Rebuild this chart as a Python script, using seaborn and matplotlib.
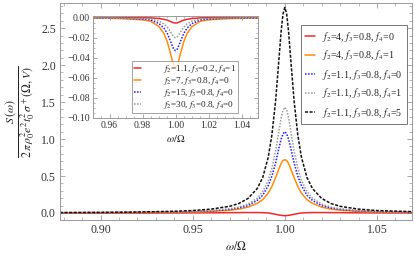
import matplotlib
matplotlib.use("Agg")
import matplotlib.pyplot as plt
import seaborn as sns
from matplotlib.ticker import MultipleLocator, FuncFormatter

# ---- main panel data ----
omega = [0.878, 0.90, 0.92, 0.94, 0.95, 0.96, 0.97, 0.975, 0.98, 0.985, 0.988, 0.991,
         0.993, 0.995, 0.997, 0.998, 0.999, 1.000, 1.001, 1.002, 1.003, 1.005, 1.007,
         1.009, 1.012, 1.015, 1.02, 1.025, 1.03, 1.04, 1.05, 1.069]
s_red = [-0.002, -0.002, -0.001, 0.0, 0.001, 0.002, 0.004, 0.005, 0.006, 0.006, 0.004, 0.0,
         -0.008, -0.018, -0.028, -0.032, -0.035, -0.036, -0.035, -0.032, -0.028, -0.018, -0.008,
         0.0, 0.004, 0.006, 0.006, 0.005, 0.004, 0.002, 0.001, 0.0]
s_orange = [0.002, 0.0035, 0.0055, 0.01, 0.014, 0.021, 0.037, 0.052, 0.079, 0.13, 0.18, 0.27,
            0.36, 0.48, 0.61, 0.67, 0.71, 0.72, 0.71, 0.67, 0.61, 0.48, 0.36,
            0.27, 0.18, 0.13, 0.079, 0.052, 0.037, 0.021, 0.014, 0.007]
s_blue = [0.003, 0.0045, 0.007, 0.012, 0.018, 0.028, 0.048, 0.068, 0.10, 0.17, 0.24, 0.37,
          0.50, 0.68, 0.90, 1.00, 1.07, 1.10, 1.07, 1.00, 0.90, 0.68, 0.50,
          0.37, 0.24, 0.17, 0.10, 0.068, 0.048, 0.028, 0.018, 0.009]
s_gray = [0.004, 0.006, 0.009, 0.015, 0.021, 0.033, 0.058, 0.08, 0.12, 0.20, 0.29, 0.44,
          0.61, 0.84, 1.14, 1.29, 1.39, 1.43, 1.39, 1.29, 1.14, 0.84, 0.61,
          0.44, 0.29, 0.20, 0.12, 0.08, 0.058, 0.033, 0.021, 0.011]
s_black = [0.006, 0.008, 0.013, 0.023, 0.033, 0.052, 0.090, 0.128, 0.196, 0.33, 0.48, 0.755,
           1.06, 1.52, 2.14, 2.46, 2.69, 2.78, 2.69, 2.46, 2.14, 1.52, 1.06,
           0.755, 0.48, 0.33, 0.196, 0.128, 0.090, 0.052, 0.033, 0.018]
main_labels = [r"$f_2$=4, $f_3$=0.8, $f_4$=0",
               r"$f_2$=4, $f_3$=0.8, $f_4$=1",
               r"$f_2$=1.1, $f_3$=0.8, $f_4$=0",
               r"$f_2$=1.1, $f_3$=0.8, $f_4$=1",
               r"$f_2$=1.1, $f_3$=0.8, $f_4$=5"]

# ---- inset data ----
omega_in = [0.95, 0.96, 0.97, 0.98, 0.985, 0.99, 0.993, 0.995, 0.997, 0.998, 0.999, 1.0,
            1.001, 1.002, 1.003, 1.005, 1.007, 1.01, 1.015, 1.02, 1.03, 1.04, 1.05]
in_red = [-0.0001, -0.0001, -0.0001, -0.0002, -0.0004, -0.001, -0.0018, -0.0026, -0.004, -0.0047,
          -0.0053, -0.0055, -0.0053, -0.0047, -0.004, -0.0026, -0.0018, -0.001, -0.0004, -0.0002,
          -0.0001, -0.0001, -0.0001]
in_orange = [-0.0005, -0.00075, -0.0013, -0.0023, -0.0038, -0.009, -0.016, -0.024, -0.036, -0.0425,
             -0.048, -0.05, -0.048, -0.0425, -0.036, -0.024, -0.016, -0.009, -0.0038, -0.0023,
             -0.0013, -0.00075, -0.0005]
in_blue = [-0.0003, -0.0005, -0.0008, -0.0015, -0.0025, -0.006, -0.0106, -0.0158, -0.0238, -0.028,
           -0.0317, -0.033, -0.0317, -0.028, -0.0238, -0.0158, -0.0106, -0.006, -0.0025, -0.0015,
           -0.0008, -0.0005, -0.0003]
in_gray = [-0.0002, -0.0003, -0.0005, -0.0009, -0.0015, -0.0036, -0.0064, -0.0096, -0.0144, -0.017,
           -0.0192, -0.02, -0.0192, -0.017, -0.0144, -0.0096, -0.0064, -0.0036, -0.0015, -0.0009,
           -0.0005, -0.0003, -0.0002]
inset_labels = [r"$f_2$=1.1, $f_3$=0.2, $f_4$=1",
                r"$f_2$=7, $f_3$=0.8, $f_4$=0",
                r"$f_2$=15, $f_3$=0.8, $f_4$=0",
                r"$f_2$=30, $f_3$=0.8, $f_4$=0"]

sns.set_style("ticks")
plt.rcParams['font.family'] = ['Liberation Serif', 'DejaVu Serif']
plt.rcParams['mathtext.fontset'] = 'stix'
plt.rcParams['axes.edgecolor'] = '#9a9a9a'
plt.rcParams['xtick.color'] = '#9a9a9a'
plt.rcParams['ytick.color'] = '#9a9a9a'
plt.rcParams['xtick.labelcolor'] = '#333333'
plt.rcParams['ytick.labelcolor'] = '#333333'


def fmt(nd):
    def f(v, pos):
        if abs(v) < 1e-9:
            v = 0.0
        return f"{v:.{nd}f}".replace('-', '\u2212')
    return FuncFormatter(f)


RED, ORANGE, BLUE, GRAY, BLACK = '#f0282c', '#ff8c0a', '#1a1aff', '#999999', '#111111'
styles = [(RED, '-'), (ORANGE, '-'), (BLUE, (0, (1, 1))), (GRAY, (0, (1, 1))), (BLACK, (0, (2, 1)))]

fig = plt.figure(figsize=(4.15, 2.58), dpi=100)
ax = fig.add_axes([60 / 415, 1 - 220 / 258, 352 / 415, 217 / 258])

for ys, (c, ls), lab in zip([s_red, s_orange, s_blue, s_gray, s_black], styles, main_labels):
    sns.lineplot(x=omega, y=ys, ax=ax, color=c, linestyle=ls, lw=1.1, label=lab)

ax.set_xlim(0.878, 1.069)
ax.set_ylim(-0.095, 2.84)
ax.xaxis.set_major_locator(MultipleLocator(0.05))
ax.xaxis.set_minor_locator(MultipleLocator(0.01))
ax.yaxis.set_major_locator(MultipleLocator(0.5))
ax.yaxis.set_minor_locator(MultipleLocator(0.1))
ax.xaxis.set_major_formatter(fmt(2))
ax.yaxis.set_major_formatter(fmt(1))
ax.tick_params(which='both', direction='in', top=True, right=True, labelsize=8.5, pad=3)
ax.tick_params(which='major', length=3.5, width=0.6)
ax.tick_params(which='minor', length=2, width=0.5)
for sp in ax.spines.values():
    sp.set_linewidth(0.7)
ax.set_xlabel(r"$\omega/\Omega$", fontsize=8.5, color='#222222', labelpad=3)
ax.set_ylabel(r"$\dfrac{S\,(\omega)}{2\,\pi\,\rho_0^2 e^2 t_0^2\,\sigma^+(\Omega,V)}$",
              fontsize=8.5, color='#222222', labelpad=3)

leg = ax.legend(loc='upper right', bbox_to_anchor=(407 / 415, 1 - 25 / 258),
                bbox_transform=fig.transFigure, fontsize=7.2, frameon=True, fancybox=False,
                handlelength=1.0, handletextpad=0.7, borderpad=0.45, labelspacing=0.5,
                borderaxespad=0)
leg.get_frame().set_edgecolor('#555555')
leg.get_frame().set_linewidth(0.7)

# ---- inset ----
axi = fig.add_axes([93 / 415, 1 - 118 / 258, 165 / 415, 102 / 258])
axi.set_facecolor('white')
in_styles = [(RED, '-'), (ORANGE, '-'), (BLUE, (0, (1, 1))), (GRAY, (0, (1, 1)))]
for ys, (c, ls), lab in zip([in_red, in_orange, in_blue, in_gray], in_styles, inset_labels):
    sns.lineplot(x=omega_in, y=ys, ax=axi, color=c, linestyle=ls, lw=1.1, label=lab)

axi.set_xlim(0.95, 1.05)
axi.set_ylim(-0.1, 0.0015)
axi.xaxis.set_major_locator(MultipleLocator(0.02))
axi.xaxis.set_minor_locator(MultipleLocator(0.005))
axi.yaxis.set_major_locator(MultipleLocator(0.02))
axi.yaxis.set_minor_locator(MultipleLocator(0.005))
axi.xaxis.set_major_formatter(fmt(2))
axi.yaxis.set_major_formatter(fmt(2))
axi.tick_params(which='both', direction='in', top=True, right=True, labelsize=7, pad=2)
axi.tick_params(which='major', length=3, width=0.6)
axi.tick_params(which='minor', length=1.7, width=0.5)
for sp in axi.spines.values():
    sp.set_linewidth(0.7)
axi.set_xlabel(r"$\omega/\Omega$", fontsize=7.5, color='#222222', labelpad=2)

legi = axi.legend(loc='lower right', bbox_to_anchor=(238 / 415, 1 - 113 / 258),
                  bbox_transform=fig.transFigure, fontsize=6.6, frameon=True, fancybox=False,
                  handlelength=0.8, handletextpad=2.4, borderpad=0.2, labelspacing=0.0,
                  borderaxespad=0)
legi.get_frame().set_edgecolor('#777777')
legi.get_frame().set_linewidth(0.6)

fig.savefig("out.png", dpi=100)
